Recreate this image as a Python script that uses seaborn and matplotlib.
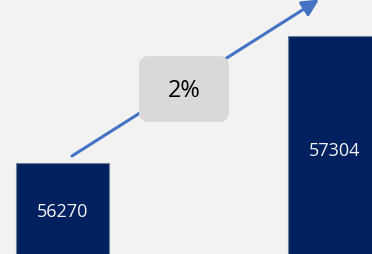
import pandas as pd
import seaborn as sns
import matplotlib.pyplot as plt
from matplotlib.patches import FancyBboxPatch

categories = ['Before', 'After']
values = [56270, 57304]
change_label = '2%'

df = pd.DataFrame({'cat': categories, 'val': values})

sns.set_style('white')
plt.rcParams['font.family'] = ['Open Sans', 'DejaVu Sans']

fig = plt.figure(figsize=(3.72, 2.55), dpi=100, facecolor='#f2f2f2')
ax = fig.add_axes([0, 0, 1, 1])
ax.set_facecolor('#f2f2f2')

sns.barplot(data=df, x='cat', y='val', color='#002060', width=0.341,
            edgecolor='#6f7f99', linewidth=0.8, ax=ax, saturation=1)

ax.set_xlim(-0.229, 1.136)
ax.set_ylim(55529, 57605)
ax.axis('off')

# value labels inside the bars
for i, v in enumerate(values):
    mid = v - 390 if i == 0 else v - 930
    ax.text(i, mid, str(v), color='#f4f4f4', ha='center', va='center', fontsize=13)

# growth arrow
ax.annotate('', xy=(3.19, 2.545), xytext=(0.72, 0.98),
            xycoords=fig.dpi_scale_trans, textcoords=fig.dpi_scale_trans,
            arrowprops=dict(arrowstyle='-|>,head_length=1.0,head_width=0.5',
                            color='#4472c4', lw=2.2, shrinkA=0, shrinkB=0))

# percentage box
box = FancyBboxPatch((1.49, 1.42), 0.70, 0.46,
                     boxstyle='round,pad=0.1,rounding_size=0.1',
                     transform=fig.dpi_scale_trans, facecolor='#d9d9d9',
                     edgecolor='none', zorder=5)
fig.patches.append(box)
fig.text(1.84, 1.64, change_label, transform=fig.dpi_scale_trans,
         ha='center', va='center', fontsize=17, color='black', zorder=6)

fig.savefig('out.png', dpi=100, facecolor='#f2f2f2')
